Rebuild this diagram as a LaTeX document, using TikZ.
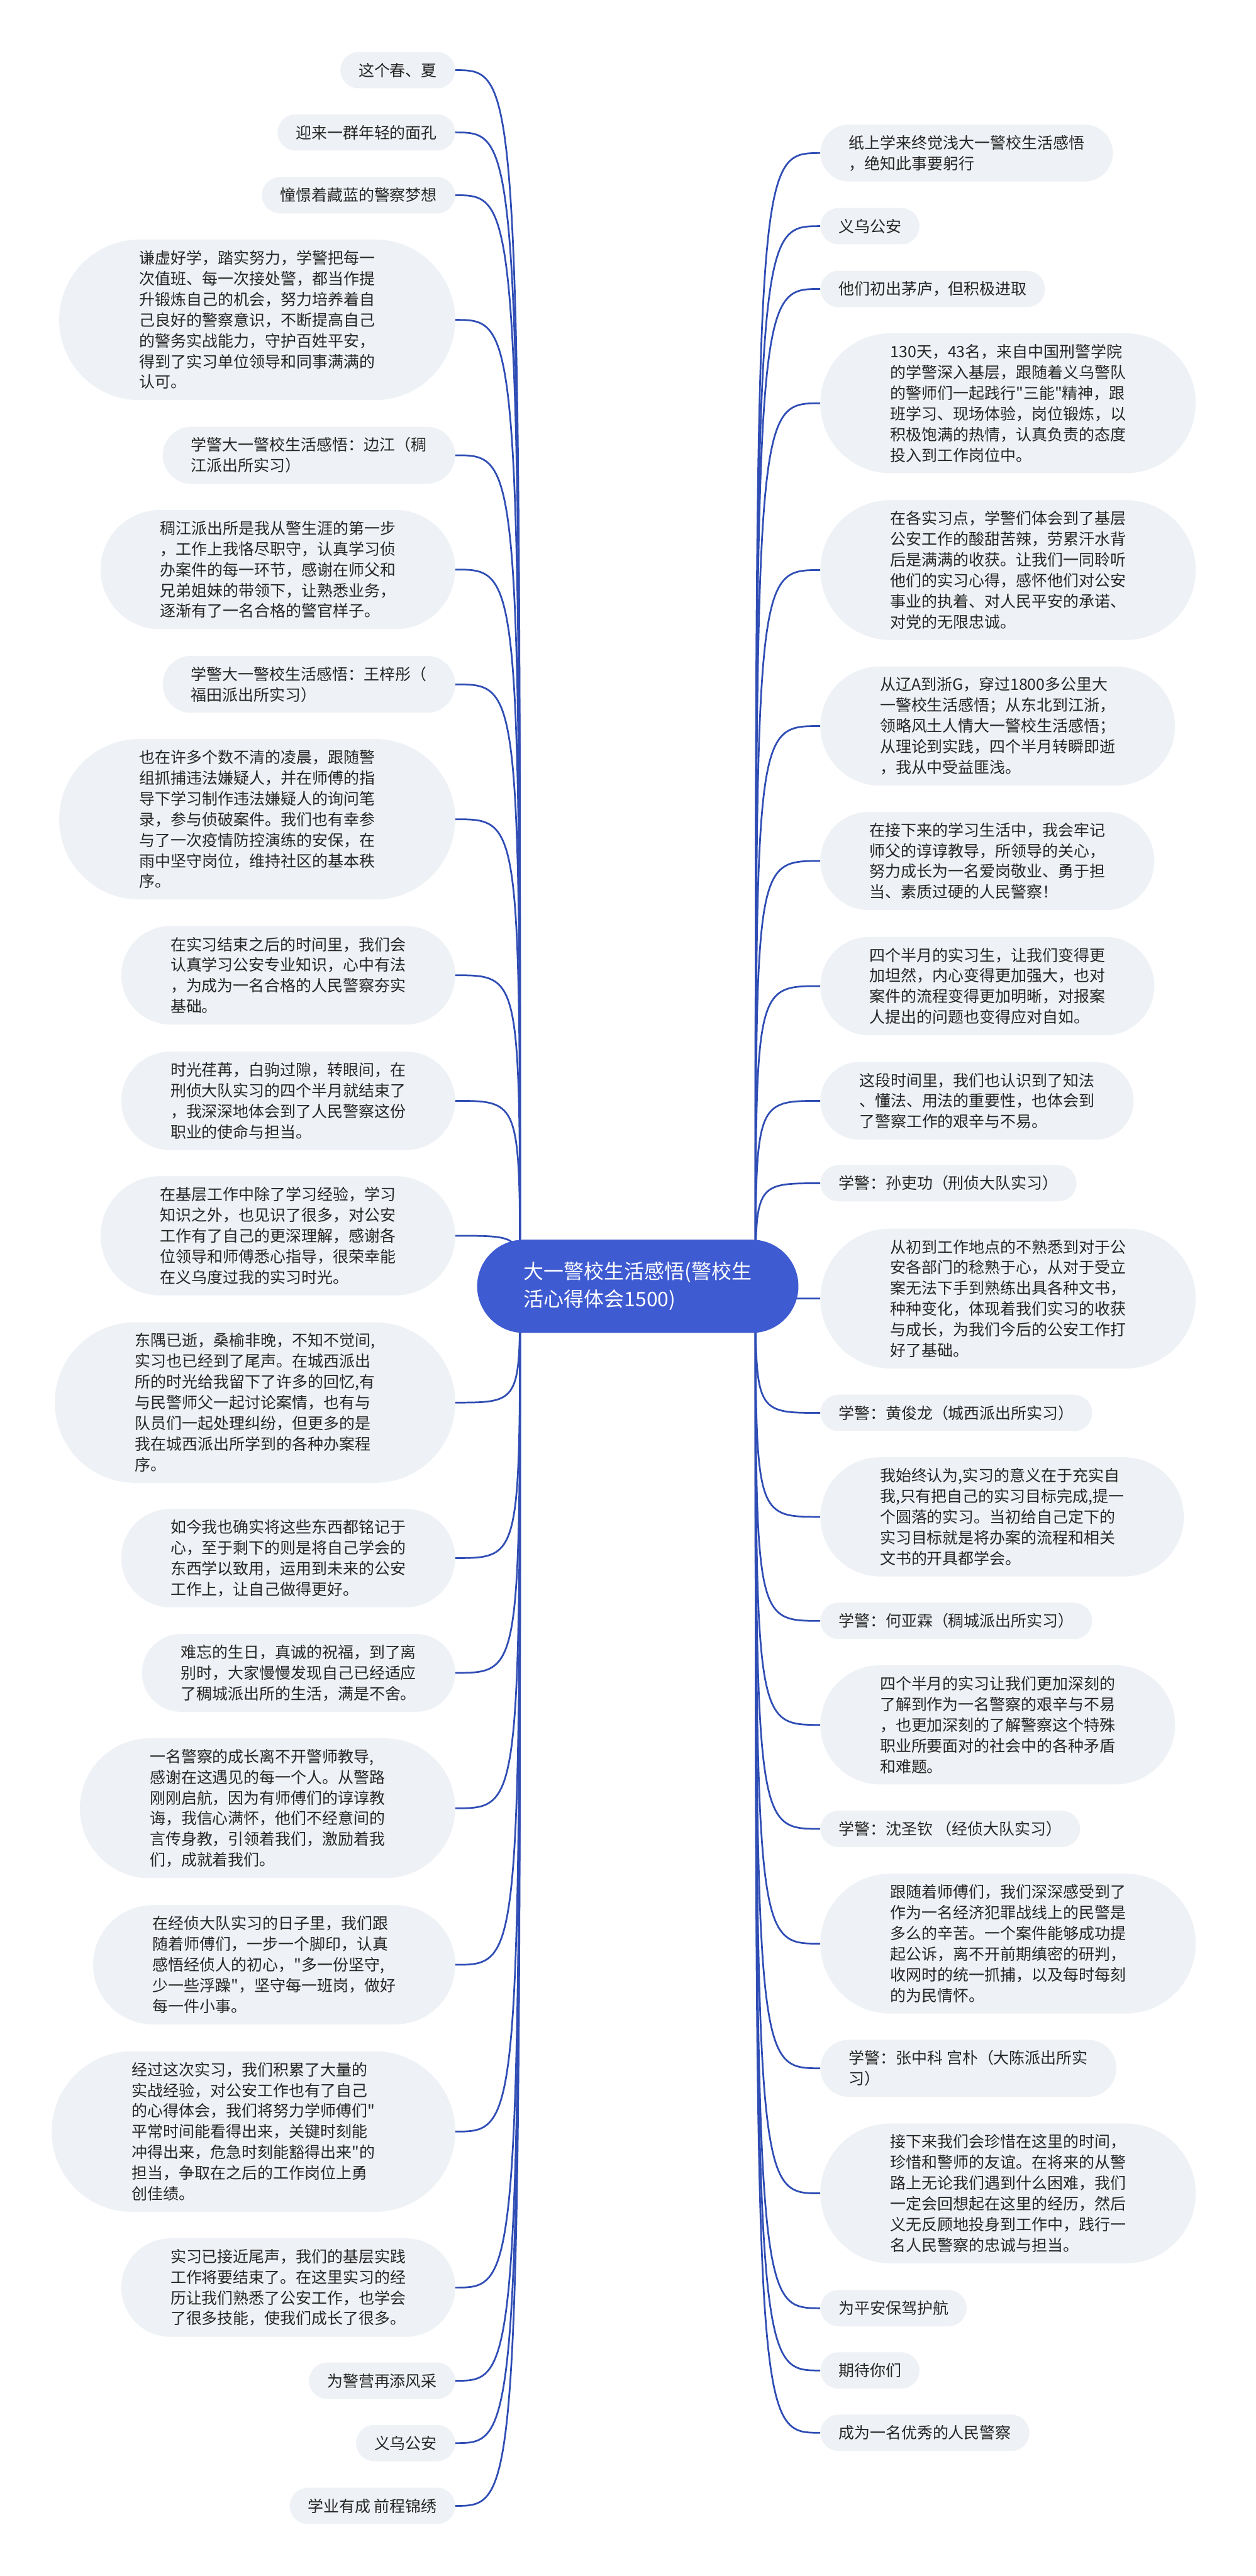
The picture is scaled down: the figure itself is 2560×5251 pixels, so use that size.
\documentclass[tikz,border=0pt]{standalone}
\usepackage{fontspec}
\setmainfont{Noto Sans CJK SC}[Ligatures=TeXOff]
\definecolor{bubblegray}{HTML}{EEF1F5}
\definecolor{inkgray}{HTML}{262626}
\definecolor{mainblue}{HTML}{3F5BD2}
\definecolor{wireblue}{HTML}{2F4DB5}
\newcommand*{\leaffont}{\fontsize{32pt}{42.2pt}\selectfont}
\newcommand*{\mainfont}{\fontsize{41pt}{56pt}\selectfont}
\pgfdeclarelayer{back}
\pgfsetlayers{back,main}
% a leaf is a pill: its height follows the number of lines (#1)
\tikzset{
       leaf/.style = { rectangle, fill=bubblegray, text=inkgray, align=left, font=\leaffont,
                       inner ysep=0pt, minimum height={74pt+42.2pt*(#1-1)},
                       inner xsep={37pt+21.1pt*(#1-1)}, rounded corners={37pt+21.1pt*(#1-1)} },
   leftleaf/.style = { leaf=#1, anchor=east },
  rightleaf/.style = { leaf=#1, anchor=west },
   leftleaf/.default = 1,
  rightleaf/.default = 1,
   mainidea/.style = { rectangle, fill=mainblue, text=white, align=left, font=\mainfont,
                       inner ysep=0pt, minimum height=190pt, inner xsep=95pt, rounded corners=95pt },
      spoke/.style = { line width=3.5pt, color=wireblue },
}

\begin{document}
\begin{tikzpicture}[x=1pt,y=-1pt]
  \useasboundingbox (0,0) rectangle (2560,5251);

  \node[mainidea] (main) at (1300,2622) {大一警校生活感悟(警校生\\活心得体会1500)};
  \coordinate (hubL) at ([xshift=-240pt]main.center);
  \coordinate (hubR) at ([xshift=240pt]main.center);

  % left side
  \node[leftleaf] (l1) at (928,143) {这个春、夏};
  \node[leftleaf] (l2) at (928,270) {迎来一群年轻的面孔};
  \node[leftleaf] (l3) at (928,398) {憧憬着藏蓝的警察梦想};
  \node[leftleaf=7] (l4) at (928,652) {谦虚好学，踏实努力，学警把每一\\次值班、每一次接处警，都当作提\\升锻炼自己的机会，努力培养着自\\己良好的警察意识，不断提高自己\\的警务实战能力，守护百姓平安，\\得到了实习单位领导和同事满满的\\认可。};
  \node[leftleaf=2] (l5) at (928,928) {学警大一警校生活感悟：边江（稠\\江派出所实习）};
  \node[leftleaf=5] (l6) at (928,1161) {稠江派出所是我从警生涯的第一步\\，工作上我恪尽职守，认真学习侦\\办案件的每一环节，感谢在师父和\\兄弟姐妹的带领下，让熟悉业务，\\逐渐有了一名合格的警官样子。};
  \node[leftleaf=2] (l7) at (928,1395) {学警大一警校生活感悟：王梓彤（\\福田派出所实习）};
  \node[leftleaf=7] (l8) at (928,1670) {也在许多个数不清的凌晨，跟随警\\组抓捕违法嫌疑人，并在师傅的指\\导下学习制作违法嫌疑人的询问笔\\录，参与侦破案件。我们也有幸参\\与了一次疫情防控演练的安保，在\\雨中坚守岗位，维持社区的基本秩\\序。};
  \node[leftleaf=4] (l9) at (928,1988) {在实习结束之后的时间里，我们会\\认真学习公安专业知识，心中有法\\，为成为一名合格的人民警察夯实\\基础。};
  \node[leftleaf=4] (l10) at (928,2244) {时光荏苒，白驹过隙，转眼间，在\\刑侦大队实习的四个半月就结束了\\，我深深地体会到了人民警察这份\\职业的使命与担当。};
  \node[leftleaf=5] (l11) at (928,2519) {在基层工作中除了学习经验，学习\\知识之外，也见识了很多，对公安\\工作有了自己的更深理解，感谢各\\位领导和师傅悉心指导，很荣幸能\\在义乌度过我的实习时光。};
  \node[leftleaf=7] (l12) at (928,2859) {东隅已逝，桑榆非晚，不知不觉间,\\实习也已经到了尾声。在城西派出\\所的时光给我留下了许多的回忆,有\\与民警师父一起讨论案情，也有与\\队员们一起处理纠纷，但更多的是\\我在城西派出所学到的各种办案程\\序。};
  \node[leftleaf=4] (l13) at (928,3176) {如今我也确实将这些东西都铭记于\\心，至于剩下的则是将自己学会的\\东西学以致用，运用到未来的公安\\工作上，让自己做得更好。};
  \node[leftleaf=3] (l14) at (928,3410) {难忘的生日，真诚的祝福，到了离\\别时，大家慢慢发现自己已经适应\\了稠城派出所的生活，满是不舍。};
  \node[leftleaf=6] (l15) at (928,3686) {一名警察的成长离不开警师教导,\\感谢在这遇见的每一个人。从警路\\刚刚启航，因为有师傅们的谆谆教\\诲，我信心满怀，他们不经意间的\\言传身教，引领着我们，激励着我\\们，成就着我们。};
  \node[leftleaf=5] (l16) at (928,4005) {在经侦大队实习的日子里，我们跟\\随着师傅们，一步一个脚印，认真\\感悟经侦人的初心，"多一份坚守,\\少一些浮躁"，坚守每一班岗，做好\\每一件小事。};
  \node[leftleaf=7] (l17) at (928,4345) {经过这次实习，我们积累了大量的\\实战经验，对公安工作也有了自己\\的心得体会，我们将努力学师傅们"\\平常时间能看得出来，关键时刻能\\冲得出来，危急时刻能豁得出来"的\\担当，争取在之后的工作岗位上勇\\创佳绩。};
  \node[leftleaf=4] (l18) at (928,4663) {实习已接近尾声，我们的基层实践\\工作将要结束了。在这里实习的经\\历让我们熟悉了公安工作，也学会\\了很多技能，使我们成长了很多。};
  \node[leftleaf] (l19) at (928,4853) {为警营再添风采};
  \node[leftleaf] (l20) at (928,4980) {义乌公安};
  \node[leftleaf] (l21) at (928,5108) {学业有成 前程锦绣};

  % right side
  \node[rightleaf=2] (r1) at (1672,312) {纸上学来终觉浅大一警校生活感悟\\，绝知此事要躬行};
  \node[rightleaf] (r2) at (1672,461) {义乌公安};
  \node[rightleaf] (r3) at (1672,589) {他们初出茅庐，但积极进取};
  \node[rightleaf=6] (r4) at (1672,822) {130天，43名，来自中国刑警学院\\的学警深入基层，跟随着义乌警队\\的警师们一起践行"三能"精神，跟\\班学习、现场体验，岗位锻炼，以\\积极饱满的热情，认真负责的态度\\投入到工作岗位中。};
  \node[rightleaf=6] (r5) at (1672,1162) {在各实习点，学警们体会到了基层\\公安工作的酸甜苦辣，劳累汗水背\\后是满满的收获。让我们一同聆听\\他们的实习心得，感怀他们对公安\\事业的执着、对人民平安的承诺、\\对党的无限忠诚。};
  \node[rightleaf=5] (r6) at (1672,1480) {从辽A到浙G，穿过1800多公里大\\一警校生活感悟；从东北到江浙，\\领略风土人情大一警校生活感悟；\\从理论到实践，四个半月转瞬即逝\\，我从中受益匪浅。};
  \node[rightleaf=4] (r7) at (1672,1755) {在接下来的学习生活中，我会牢记\\师父的谆谆教导，所领导的关心，\\努力成长为一名爱岗敬业、勇于担\\当、素质过硬的人民警察！};
  \node[rightleaf=4] (r8) at (1672,2010) {四个半月的实习生，让我们变得更\\加坦然，内心变得更加强大，也对\\案件的流程变得更加明晰，对报案\\人提出的问题也变得应对自如。};
  \node[rightleaf=3] (r9) at (1672,2244) {这段时间里，我们也认识到了知法\\、懂法、用法的重要性，也体会到\\了警察工作的艰辛与不易。};
  \node[rightleaf] (r10) at (1672,2412) {学警：孙吏功（刑侦大队实习）};
  \node[rightleaf=6] (r11) at (1672,2647) {从初到工作地点的不熟悉到对于公\\安各部门的稔熟于心，从对于受立\\案无法下手到熟练出具各种文书，\\种种变化，体现着我们实习的收获\\与成长，为我们今后的公安工作打\\好了基础。};
  \node[rightleaf] (r12) at (1672,2880) {学警：黄俊龙（城西派出所实习）};
  \node[rightleaf=5] (r13) at (1672,3092) {我始终认为,实习的意义在于充实自\\我,只有把自己的实习目标完成,提一\\个圆落的实习。当初给自己定下的\\实习目标就是将办案的流程和相关\\文书的开具都学会。};
  \node[rightleaf] (r14) at (1672,3304) {学警：何亚霖（稠城派出所实习）};
  \node[rightleaf=5] (r15) at (1672,3516) {四个半月的实习让我们更加深刻的\\了解到作为一名警察的艰辛与不易\\，也更加深刻的了解警察这个特殊\\职业所要面对的社会中的各种矛盾\\和难题。};
  \node[rightleaf] (r16) at (1672,3728) {学警：沈圣钦 （经侦大队实习）};
  \node[rightleaf=6] (r17) at (1672,3962) {跟随着师傅们，我们深深感受到了\\作为一名经济犯罪战线上的民警是\\多么的辛苦。一个案件能够成功提\\起公诉，离不开前期缜密的研判，\\收网时的统一抓捕，以及每时每刻\\的为民情怀。};
  \node[rightleaf=2] (r18) at (1672,4216) {学警：张中科 宫朴（大陈派出所实\\习）};
  \node[rightleaf=6] (r19) at (1672,4471) {接下来我们会珍惜在这里的时间，\\珍惜和警师的友谊。在将来的从警\\路上无论我们遇到什么困难，我们\\一定会回想起在这里的经历，然后\\义无反顾地投身到工作中，践行一\\名人民警察的忠诚与担当。};
  \node[rightleaf] (r20) at (1672,4705) {为平安保驾护航};
  \node[rightleaf] (r21) at (1672,4832) {期待你们};
  \node[rightleaf] (r22) at (1672,4959) {成为一名优秀的人民警察};

  \begin{pgfonlayer}{back}
    \fill[white] (0,0) rectangle (2560,5251);
    \foreach \i in {1,...,21} {
      \draw[spoke] (l\i.east) .. controls (l\i.east -| hubL) .. (hubL);
    }
    \foreach \i in {1,...,22} {
      \draw[spoke] (r\i.west) .. controls (r\i.west -| hubR) .. (hubR);
    }
  \end{pgfonlayer}
\end{tikzpicture}
\end{document}
